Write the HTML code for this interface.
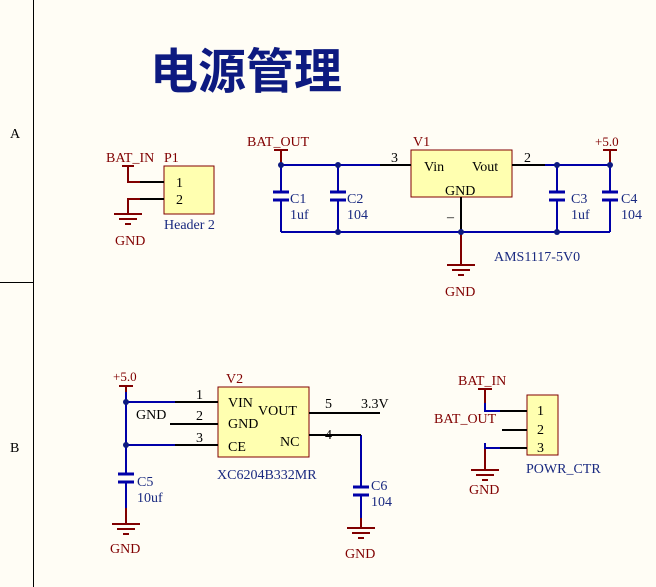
<!DOCTYPE html><html><head><meta charset="utf-8"><style>html,body{margin:0;padding:0;background:#fffdf5}svg{display:block}text{font-family:"Liberation Serif",serif;font-size:14px}</style></head><body>
<svg width="656" height="587" viewBox="0 0 656 587" xmlns="http://www.w3.org/2000/svg">
<rect width="656" height="587" fill="#fffdf5"/>
<line x1="33.5" y1="0" x2="33.5" y2="587" stroke="#000" stroke-width="1"/>
<line x1="0" y1="282.5" x2="33" y2="282.5" stroke="#000" stroke-width="1"/>
<text x="10" y="138" fill="#000">A</text>
<text x="10" y="452" fill="#000">B</text>
<text x="150" y="88" fill="#0d1a80" style="font-family:'Noto Sans CJK SC',sans-serif;font-size:48px;font-weight:bold">电源管理</text>

<defs>
<g id="gnd" stroke="#800000" stroke-width="2"><line x1="-14" y1="0" x2="14" y2="0"/><line x1="-9" y1="5" x2="9" y2="5"/><line x1="-3" y1="10" x2="3" y2="10"/></g>
<g id="cap" stroke="#0000a8" stroke-width="3"><line x1="-8" y1="0" x2="8" y2="0"/><line x1="-8" y1="8" x2="8" y2="8"/></g>
</defs>

<!-- P1 -->
<rect x="164" y="166" width="50" height="48" fill="#ffffb0" stroke="#800000"/>
<g stroke="#800000" stroke-width="2" fill="none"><line x1="122" y1="166" x2="134" y2="166"/><polyline points="128,166 128,182 140,182"/><polyline points="128,214 128,199 140,199"/></g>
<g stroke="#000" stroke-width="2"><line x1="140" y1="182" x2="164" y2="182"/><line x1="140" y1="199" x2="164" y2="199"/></g>
<use href="#gnd" x="128" y="214"/>
<text x="106" y="162" fill="#800000">BAT_IN</text><text x="164" y="162" fill="#800000">P1</text>
<text x="176" y="187" fill="#000">1</text><text x="176" y="204" fill="#000">2</text>
<text x="164" y="229" fill="#1a2a80">Header 2</text><text x="115" y="245" fill="#800000">GND</text>

<!-- V1 section -->
<rect x="411" y="150" width="101" height="47" fill="#ffffb0" stroke="#800000"/>
<g stroke="#0000a8" stroke-width="2" fill="none">
<line x1="281" y1="165" x2="380" y2="165"/><line x1="545" y1="165" x2="610" y2="165"/>
<line x1="281" y1="232" x2="610" y2="232"/>
<line x1="281" y1="165" x2="281" y2="192"/><line x1="281" y1="200" x2="281" y2="232"/>
<line x1="338" y1="165" x2="338" y2="192"/><line x1="338" y1="200" x2="338" y2="232"/>
<line x1="557" y1="165" x2="557" y2="192"/><line x1="557" y1="200" x2="557" y2="232"/>
<line x1="610" y1="165" x2="610" y2="192"/><line x1="610" y1="200" x2="610" y2="232"/>
</g>
<g stroke="#000" stroke-width="2"><line x1="380" y1="165" x2="411" y2="165"/><line x1="512" y1="165" x2="545" y2="165"/><line x1="461" y1="197" x2="461" y2="232"/></g>
<g stroke="#800000" stroke-width="2"><line x1="274" y1="150" x2="288" y2="150"/><line x1="281" y1="150" x2="281" y2="165"/><line x1="603" y1="150" x2="617" y2="150"/><line x1="610" y1="150" x2="610" y2="165"/><line x1="461" y1="232" x2="461" y2="265"/></g>
<use href="#cap" x="281" y="192"/><use href="#cap" x="338" y="192"/><use href="#cap" x="557" y="192"/><use href="#cap" x="610" y="192"/>
<use href="#gnd" x="461" y="265"/>
<g fill="#0d1a80"><circle cx="281" cy="165" r="3"/><circle cx="338" cy="165" r="3"/><circle cx="557" cy="165" r="3"/><circle cx="610" cy="165" r="3"/><circle cx="338" cy="232" r="3"/><circle cx="461" cy="232" r="3"/><circle cx="557" cy="232" r="3"/></g>
<text x="247" y="146" fill="#800000">BAT_OUT</text><text x="413" y="146" fill="#800000">V1</text><text x="595" y="146" fill="#800000" style="font-size:13px">+5.0</text>
<text x="391" y="162" fill="#000">3</text><text x="524" y="162" fill="#000">2</text>
<text x="424" y="171" fill="#000">Vin</text><text x="472" y="171" fill="#000">Vout</text><text x="445" y="195" fill="#000">GND</text>
<text x="447" y="221" fill="#000">–</text>
<text x="290" y="203" fill="#1a2a80">C1</text><text x="290" y="219" fill="#1a2a80">1uf</text>
<text x="347" y="203" fill="#1a2a80">C2</text><text x="347" y="219" fill="#1a2a80">104</text>
<text x="571" y="203" fill="#1a2a80">C3</text><text x="571" y="219" fill="#1a2a80">1uf</text>
<text x="621" y="203" fill="#1a2a80">C4</text><text x="621" y="219" fill="#1a2a80">104</text>
<text x="494" y="261" fill="#1a2a80">AMS1117-5V0</text><text x="445" y="296" fill="#800000">GND</text>

<!-- V2 -->
<rect x="218" y="387" width="91" height="70" fill="#ffffb0" stroke="#800000"/>
<g stroke="#0000a8" stroke-width="2" fill="none"><line x1="126" y1="386" x2="126" y2="474"/><line x1="126" y1="481" x2="126" y2="508"/><line x1="126" y1="402" x2="175" y2="402"/><line x1="126" y1="445" x2="175" y2="445"/><line x1="361" y1="435" x2="361" y2="487"/><line x1="361" y1="494" x2="361" y2="518"/></g>
<g stroke="#000" stroke-width="2"><line x1="175" y1="402" x2="218" y2="402"/><line x1="170" y1="424" x2="218" y2="424"/><line x1="175" y1="445" x2="218" y2="445"/><line x1="309" y1="413" x2="380" y2="413"/><line x1="309" y1="435" x2="361" y2="435"/></g>
<g stroke="#800000" stroke-width="2"><line x1="119" y1="386" x2="133" y2="386"/><line x1="126" y1="386" x2="126" y2="392"/><line x1="126" y1="508" x2="126" y2="524"/><line x1="361" y1="518" x2="361" y2="528"/></g>
<use href="#cap" x="126" y="474"/><use href="#cap" x="361" y="487"/>
<use href="#gnd" x="126" y="524"/><use href="#gnd" x="361" y="528"/>
<g fill="#0d1a80"><circle cx="126" cy="402" r="3"/><circle cx="126" cy="445" r="3"/></g>
<text x="113" y="381" fill="#800000" style="font-size:13px">+5.0</text><text x="226" y="383" fill="#800000">V2</text>
<text x="196" y="399" fill="#000">1</text><text x="196" y="420" fill="#000">2</text><text x="196" y="442" fill="#000">3</text>
<text x="136" y="419" fill="#000">GND</text>
<text x="228" y="407" fill="#000">VIN</text><text x="228" y="428" fill="#000">GND</text><text x="228" y="451" fill="#000">CE</text>
<text x="258" y="415" fill="#000">VOUT</text><text x="280" y="446" fill="#000">NC</text>
<text x="325" y="408" fill="#000">5</text><text x="361" y="408" fill="#000">3.3V</text><text x="325" y="439" fill="#000">4</text>
<text x="217" y="479" fill="#1a2a80">XC6204B332MR</text>
<text x="137" y="486" fill="#1a2a80">C5</text><text x="137" y="502" fill="#1a2a80">10uf</text>
<text x="371" y="490" fill="#1a2a80">C6</text><text x="371" y="506" fill="#1a2a80">104</text>
<text x="110" y="553" fill="#800000">GND</text><text x="345" y="558" fill="#800000">GND</text>

<!-- POWR_CTR -->
<rect x="527" y="395" width="31" height="60" fill="#ffffb0" stroke="#800000"/>
<g stroke="#800000" stroke-width="2" fill="none"><line x1="478" y1="389" x2="492" y2="389"/><line x1="485" y1="389" x2="485" y2="403"/><line x1="485" y1="448" x2="485" y2="462"/></g>
<g stroke="#0000a8" stroke-width="2" fill="none"><polyline points="485,403 485,411 500,411"/><polyline points="485,443 485,448 500,448"/></g>
<g stroke="#000" stroke-width="2"><line x1="500" y1="411" x2="527" y2="411"/><line x1="502" y1="430" x2="527" y2="430"/><line x1="500" y1="448" x2="527" y2="448"/></g>
<use href="#gnd" x="485" y="470"/><line x1="485" y1="462" x2="485" y2="470" stroke="#800000" stroke-width="2"/>
<text x="458" y="385" fill="#800000">BAT_IN</text><text x="434" y="423" fill="#800000">BAT_OUT</text>
<text x="537" y="415" fill="#000">1</text><text x="537" y="434" fill="#000">2</text><text x="537" y="452" fill="#000">3</text>
<text x="526" y="473" fill="#1a2a80">POWR_CTR</text><text x="469" y="494" fill="#800000">GND</text>
</svg></body></html>
